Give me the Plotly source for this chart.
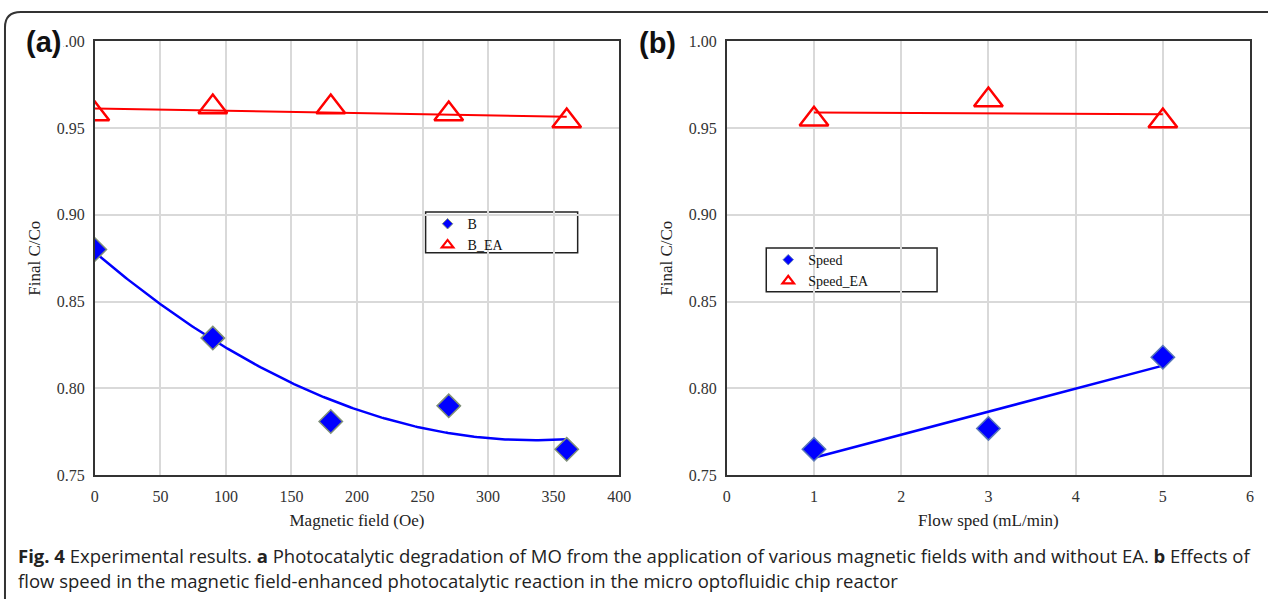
import numpy as np
import plotly.graph_objects as go

# ---- data -------------------------------------------------------------
field_oe = [0, 90, 180, 270, 360]
cc_B = [0.880, 0.829, 0.781, 0.790, 0.765]
cc_B_EA = [0.958, 0.962, 0.962, 0.958, 0.954]

flow_speed = [1, 3, 5]
cc_speed = [0.765, 0.777, 0.818]
cc_speed_EA = [0.955, 0.966, 0.954]

y_ticks = [0.75, 0.80, 0.85, 0.90, 0.95, 1.00]

# figure size leaves room for the page's 8px body margin
PAGE_W, PAGE_H, BODY = 1284, 615, 8
W, H = PAGE_W - 2 * BODY, PAGE_H - 2 * BODY

def px_x(p):
    """page pixel column -> paper x"""
    return (p - BODY) / W

def px_y(p):
    """page pixel row -> paper y"""
    return 1 - (p - BODY) / H

BLUE = "#0000ff"
RED = "#ff0000"
SERIF = "Liberation Serif, Times New Roman, serif"

fig = go.Figure()

# ---- panel (a): magnetic field ----------------------------------------
xf = np.linspace(min(field_oe), max(field_oe), 200)
quad = np.polyfit(field_oe, cc_B, 2)
fig.add_trace(go.Scatter(x=xf, y=np.polyval(quad, xf), mode="lines",
                         line=dict(color=BLUE, width=2.5), showlegend=False,
                         xaxis="x", yaxis="y"))
lin_a = np.polyfit(field_oe, cc_B_EA, 1)
fig.add_trace(go.Scatter(x=xf, y=np.polyval(lin_a, xf), mode="lines",
                         line=dict(color=RED, width=2), showlegend=False,
                         xaxis="x", yaxis="y"))
fig.add_trace(go.Scatter(x=field_oe, y=cc_B, mode="markers", showlegend=False,
                         marker=dict(symbol="diamond", size=18, color=BLUE,
                                     line=dict(color="#7f8f78", width=1.5)),
                         xaxis="x", yaxis="y"))
fig.add_trace(go.Scatter(x=field_oe, y=cc_B_EA, mode="markers", showlegend=False,
                         marker=dict(symbol="triangle-up-open", size=25, color=RED,
                                     line=dict(color=RED, width=2.5)),
                         xaxis="x", yaxis="y"))
# legend entries (a)
fig.add_trace(go.Scatter(x=[None], y=[None], mode="markers", name="B", legend="legend",
                         marker=dict(symbol="diamond", size=8, color=BLUE,
                                     line=dict(color="#7f8f78", width=1)),
                         xaxis="x", yaxis="y"))
fig.add_trace(go.Scatter(x=[None], y=[None], mode="markers", name="B_EA", legend="legend",
                         marker=dict(symbol="triangle-up-open", size=10, color=RED,
                                     line=dict(color=RED, width=2.2)),
                         xaxis="x", yaxis="y"))

# ---- panel (b): flow speed --------------------------------------------
xs = np.linspace(min(flow_speed), max(flow_speed), 50)
lin_b1 = np.polyfit(flow_speed, cc_speed, 1)
lin_b2 = np.polyfit(flow_speed, cc_speed_EA, 1)
fig.add_trace(go.Scatter(x=xs, y=np.polyval(lin_b1, xs), mode="lines",
                         line=dict(color=BLUE, width=2.5), showlegend=False,
                         xaxis="x2", yaxis="y2"))
fig.add_trace(go.Scatter(x=xs, y=np.polyval(lin_b2, xs), mode="lines",
                         line=dict(color=RED, width=2), showlegend=False,
                         xaxis="x2", yaxis="y2"))
fig.add_trace(go.Scatter(x=flow_speed, y=cc_speed, mode="markers", showlegend=False,
                         marker=dict(symbol="diamond", size=18, color=BLUE,
                                     line=dict(color="#5a78b8", width=1.5)),
                         xaxis="x2", yaxis="y2"))
fig.add_trace(go.Scatter(x=flow_speed, y=cc_speed_EA, mode="markers", showlegend=False,
                         marker=dict(symbol="triangle-up-open", size=25, color=RED,
                                     line=dict(color=RED, width=2.5)),
                         xaxis="x2", yaxis="y2"))
fig.add_trace(go.Scatter(x=[None], y=[None], mode="markers", name="Speed", legend="legend2",
                         marker=dict(symbol="diamond", size=8, color=BLUE,
                                     line=dict(color="#5a78b8", width=1)),
                         xaxis="x2", yaxis="y2"))
fig.add_trace(go.Scatter(x=[None], y=[None], mode="markers", name="Speed_EA", legend="legend2",
                         marker=dict(symbol="triangle-up-open", size=10, color=RED,
                                     line=dict(color=RED, width=2.2)),
                         xaxis="x2", yaxis="y2"))

axis_common = dict(showgrid=True, gridcolor="#d9d9d9", gridwidth=1.5,
                   showline=True, linecolor="#333333", linewidth=1.8, mirror=True,
                   zeroline=False, ticks="",
                   tickfont=dict(family=SERIF, size=16, color="#333333"),
                   title_font=dict(family=SERIF, size=17, color="#222222"))

y_common = dict(axis_common, range=[0.75, 1.0], tickvals=y_ticks,
                tickformat=".2f", title_text="Final C/Co", ticklabelstandoff=5,
                domain=[px_y(489), px_y(42)])

fig.update_layout(
    width=W, height=H,
    margin=dict(l=0, r=0, t=0, b=0),
    paper_bgcolor="white", plot_bgcolor="white",
    xaxis=dict(axis_common, domain=[px_x(100), px_x(631)], range=[0, 400],
               dtick=50, title_text="Magnetic field (Oe)", title_standoff=10,
               ticklabelstandoff=6, anchor="y"),
    yaxis=dict(y_common, anchor="x", title_standoff=12),
    xaxis2=dict(axis_common, domain=[px_x(740), px_x(1270)], range=[0, 6],
                dtick=1, title_text="Flow sped (mL/min)", title_standoff=10,
                ticklabelstandoff=6, anchor="y2"),
    yaxis2=dict(y_common, anchor="x2", title_standoff=12),
    legend=dict(x=px_x(437), y=px_y(214), xanchor="left", yanchor="top",
                bgcolor="rgba(0,0,0,0)", borderwidth=0,
                font=dict(family=SERIF, size=14, color="#111111"),
                tracegroupgap=0, itemwidth=30),
    legend2=dict(x=px_x(782), y=px_y(251), xanchor="left", yanchor="top",
                 bgcolor="rgba(0,0,0,0)", borderwidth=0,
                 font=dict(family=SERIF, size=14, color="#111111"),
                 tracegroupgap=0, itemwidth=30),
    showlegend=True,
)

# legend frames
fig.add_shape(type="rect", xref="paper", yref="paper",
              x0=px_x(435), x1=px_x(589), y0=px_y(260), y1=px_y(218),
              line=dict(color="#222222", width=1.5), fillcolor="white", layer="below")
fig.add_shape(type="rect", xref="paper", yref="paper",
              x0=px_x(780), x1=px_x(953), y0=px_y(300), y1=px_y(255),
              line=dict(color="#222222", width=1.5), fillcolor="white", layer="below")

# outer rounded frame
r = 16
frame_path = (f"M {px_x(PAGE_W + 10)},{px_y(12)} L {px_x(9 + r)},{px_y(12)} "
              f"Q {px_x(9)},{px_y(12)} {px_x(9)},{px_y(12 + r)} "
              f"L {px_x(9)},{px_y(PAGE_H + 10)}")
fig.add_shape(type="path", xref="paper", yref="paper", path=frame_path,
              line=dict(color="#333333", width=2))

# panel labels
fig.add_annotation(text="<b>(a)</b>", xref="paper", yref="paper",
                   x=px_x(27), y=px_y(43), xanchor="left", yanchor="middle",
                   showarrow=False, bgcolor="white", borderpad=2,
                   font=dict(family="Liberation Sans, Arial, sans-serif", size=29, color="#111111"))
fig.add_annotation(text="<b>(b)</b>", xref="paper", yref="paper",
                   x=px_x(650), y=px_y(44), xanchor="left", yanchor="middle",
                   showarrow=False, borderpad=0,
                   font=dict(family="Liberation Sans, Arial, sans-serif", size=29, color="#111111"))

# caption
caption_font = dict(family="Open Sans, sans-serif", size=18.5, color="#222222")
fig.add_annotation(
    text=("<b>Fig. 4</b> Experimental results. <b>a</b> Photocatalytic degradation of MO from the "
          "application of various magnetic fields with and without EA. <b>b</b> Effects of"),
    xref="paper", yref="paper", x=px_x(20), y=px_y(572), xanchor="left", yanchor="middle",
    showarrow=False, font=caption_font)
fig.add_annotation(
    text="flow speed in the magnetic field-enhanced photocatalytic reaction in the micro optofluidic chip reactor",
    xref="paper", yref="paper", x=px_x(20), y=px_y(597), xanchor="left", yanchor="middle",
    showarrow=False, font=caption_font)

fig.write_html("out.html")
